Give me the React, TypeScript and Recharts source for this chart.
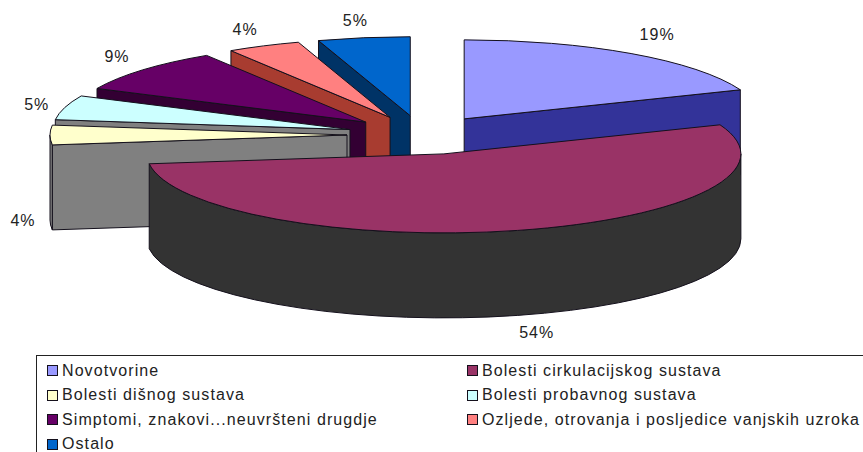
import React from "react";
import { PieChart, Pie, Legend } from "recharts";

// Data, in legend order
const categories = [
  "Novotvorine",
  "Bolesti cirkulacijskog sustava",
  "Bolesti dišnog sustava",
  "Bolesti probavnog sustava",
  "Simptomi, znakovi...neuvršteni drugdje",
  "Ozljede, otrovanja i posljedice vanjskih uzroka",
  "Ostalo",
];
const values = [19, 54, 4, 5, 9, 4, 5];

// Styles, in legend order
const faceColors = ["#9999FF", "#993366", "#FFFFCC", "#CCFFFF", "#660066", "#FF8080", "#0066CC"];
const sideColors = ["#333399", "#333333", "#808080", "#808080", "#330033", "#A83C30", "#003366"];
const explodeX = [75, 88, 75, 75, 75, 75, 75];
const labelNudges = [[26, -19], [19, 102], [-27, 85], [-28, -3], [-26, -13], [-18.5, -16.5], [-8.5, -17]];

// The pie runs counter-clockwise from Novotvorine's far edge so the slices paint back to front
const paintOrder = [0, 6, 5, 4, 3, 2, 1];
const rows = paintOrder.map((i) => ({
  name: categories[i],
  value: values[i],
  fill: faceColors[i],
  side: sideColors[i],
  explode: explodeX[i],
  nudge: labelNudges[i],
}));

const W = 863;
const H = 452;
const CX = 422;
const CY = 135;
const RX = 297;
const RY = 79;
const EXPLODE_Y = 19.5;
const DEPTH = 85;
const INK = "#14101c";
const rad = (d: number) => (d * Math.PI) / 180;

function geometry(props: any) {
  const span = props.endAngle - props.startAngle;
  const from = (((90 - props.endAngle) % 360) + 360) % 360;
  const to = from + span;
  const mid = from + span / 2;
  const row = props.payload?.explode !== undefined ? props.payload : props;
  const ax = props.cx + row.explode * Math.sin(rad(mid));
  const ay = props.cy - EXPLODE_Y * Math.cos(rad(mid));
  const rx = props.outerRadius;
  const ry = (props.outerRadius * RY) / RX;
  const pt = (t: number, d = 0): [number, number] => [ax + rx * Math.sin(rad(t)), ay - ry * Math.cos(rad(t)) + d];
  return { from, to, mid, ax, ay, rx, ry, pt, row };
}

function Slice3D(props: any) {
  const { from, to, ax, ay, rx, ry, pt, row } = geometry(props);
  const wall = (t: number) => {
    const p = pt(t);
    const q = pt(t, DEPTH);
    return `M${ax},${ay} L${p[0]},${p[1]} L${q[0]},${q[1]} L${ax},${ay + DEPTH} Z`;
  };
  const walls: string[] = [];
  if (Math.sin(rad(from)) < -1e-6) walls.push(wall(from));
  if (Math.sin(rad(to)) > 1e-6) walls.push(wall(to));
  const t1 = Math.max(from, 90);
  const t2 = Math.min(to, 270);
  let outer = "";
  if (t2 > t1) {
    const a = pt(t1);
    const b = pt(t2);
    const c = pt(t2, DEPTH);
    const d = pt(t1, DEPTH);
    outer = `M${a[0]},${a[1]} A${rx},${ry} 0 0 1 ${b[0]},${b[1]} L${c[0]},${c[1]} A${rx},${ry} 0 0 0 ${d[0]},${d[1]} Z`;
  }
  const s = pt(from);
  const e = pt(to);
  const large = to - from > 180 ? 1 : 0;
  const top = `M${ax},${ay} L${s[0]},${s[1]} A${rx},${ry} 0 ${large} 1 ${e[0]},${e[1]} Z`;
  return (
    <g>
      {walls.map((w, i) => (
        <path key={i} d={w} fill={row.side} stroke={INK} strokeWidth={1} strokeLinejoin="round" />
      ))}
      {outer && <path d={outer} fill={row.side} stroke={INK} strokeWidth={1} strokeLinejoin="round" />}
      <path d={top} fill={row.fill} stroke={INK} strokeWidth={1} strokeLinejoin="round" />
    </g>
  );
}

function PercentLabel(props: any) {
  const row = rows[props.index];
  const mid = 90 - props.midAngle;
  const ax = CX + row.explode * Math.sin(rad(mid));
  const ay = CY - EXPLODE_Y * Math.cos(rad(mid));
  const x = ax + RX * Math.sin(rad(mid)) + row.nudge[0];
  const y = ay - RY * Math.cos(rad(mid)) + row.nudge[1];
  return (
    <text
      x={x}
      y={y}
      textAnchor="middle"
      dominantBaseline="central"
      fontFamily="'Liberation Sans', Arial, sans-serif"
      fontSize={16}
      letterSpacing={1}
      fill="#222"
    >
      {`${row.value}%`}
    </text>
  );
}

function LegendBox() {
  const cell = (i: number) => (
    <div key={i} style={{ display: "flex", alignItems: "center", height: 24.5, whiteSpace: "nowrap" }}>
      <span
        style={{
          width: 9,
          height: 9,
          marginRight: 4,
          flex: "none",
          background: faceColors[i],
          border: "1px solid #14101c",
        }}
      />
      <span>{categories[i]}</span>
    </div>
  );
  return (
    <div
      style={{
        boxSizing: "border-box",
        width: 860,
        height: 110,
        border: "1px solid #222",
        padding: "2.5px 0 0 10px",
        display: "grid",
        gridTemplateColumns: "420px 420px",
        alignContent: "start",
        fontFamily: "'Liberation Sans', Arial, sans-serif",
        fontSize: 16,
        lineHeight: "18px",
        letterSpacing: 1.08,
        color: "#222",
        background: "#fff",
      }}
    >
      {categories.map((_, i) => cell(i))}
    </div>
  );
}

export default function App() {
  return (
    <div style={{ position: "fixed", left: 0, top: 0, width: W, height: H, overflow: "hidden", background: "#fff" }}>
      <PieChart width={W} height={H} margin={{ top: 0, right: 0, bottom: 0, left: 0 }}>
        <Legend
          content={<LegendBox />}
          wrapperStyle={{ left: 36, top: 355, bottom: "auto", width: 860, height: 110 }}
        />
        <Pie
          data={rows}
          dataKey="value"
          nameKey="name"
          cx={CX}
          cy={CY}
          innerRadius={0}
          outerRadius={RX}
          startAngle={21.6}
          endAngle={381.6}
          stroke="none"
          shape={Slice3D}
          label={PercentLabel}
          labelLine={false}
          isAnimationActive={false}
        />
      </PieChart>
    </div>
  );
}
